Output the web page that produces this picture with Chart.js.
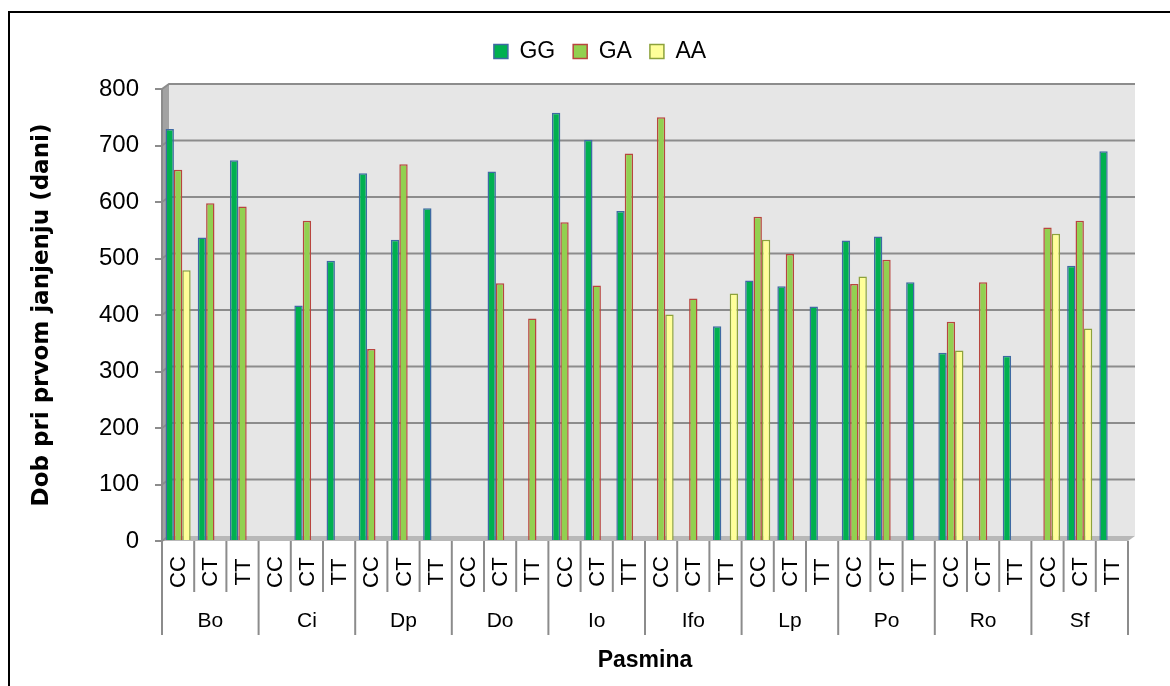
<!DOCTYPE html>
<html>
<head>
<meta charset="utf-8">
<script src="https://cdn.jsdelivr.net/npm/chart.js@4.4.1/dist/chart.umd.min.js"></script>
<style>
  html, body { margin: 0; padding: 0; background: #fff; overflow: hidden; }
  #wrap { width: 1170px; height: 686px; position: relative; }
</style>
</head>
<body>
<div id="wrap"><canvas id="chart"></canvas></div>
<script>
// Breeds (outer level) and genotypes (inner level) of the x axis
const breeds = ['Bo', 'Ci', 'Dp', 'Do', 'Io', 'Ifo', 'Lp', 'Po', 'Ro', 'Sf'];
const genotypes = ['CC', 'CT', 'TT'];

// Age at first lambing (days), one value per breed x genotype, null = no bar
const ggValues = [
  729, 537, 674,   // Bo
  null, 417, 496,  // Ci
  651, 533, 589,   // Dp
  null, 654, null, // Do
  758, 710, 584,   // Io
  null, null, 380, // Ifo
  461, 451, 415,   // Lp
  532, 539, 458,   // Po
  333, null, 328,  // Ro
  null, 487, 690   // Sf
];
const gaValues = [
  657, 598, 592,
  null, 567, null,
  340, 667, null,
  null, 456, 394,
  564, 452, 686,
  750, 429, null,
  574, 508, null,
  455, 498, null,
  388, 458, null,
  555, 567, null
];
const aaValues = [
  479, null, null,
  null, null, null,
  null, null, null,
  null, null, null,
  null, null, null,
  401, null, 438,
  533, null, null,
  468, null, null,
  337, null, null,
  544, 376, null
];

const labels = [];
breeds.forEach(b => genotypes.forEach(g => labels.push(g)));

const FONT = "'Liberation Sans', Arial, sans-serif";
const GRID = '#8c8c8c';

// Background: outer frame, 3D-ish walls and gridlines on the back wall
const wallPlugin = {
  id: 'walls',
  beforeDraw(chart) {
    const { ctx, chartArea: a, scales: { y } } = chart;
    const dx = 7, dy = 5;
    ctx.save();
    ctx.fillStyle = '#fff';
    ctx.fillRect(0, 0, chart.width, chart.height);
    // outer frame
    ctx.strokeStyle = '#000';
    ctx.lineWidth = 2;
    ctx.beginPath();
    ctx.moveTo(9, chart.height + 5);
    ctx.lineTo(9, 12);
    ctx.lineTo(chart.width + 5, 12);
    ctx.stroke();
    // back wall
    ctx.fillStyle = '#e6e6e6';
    ctx.fillRect(a.left + dx, a.top - dy, a.width, a.height);
    // side wall
    ctx.fillStyle = '#a2a2a2';
    ctx.beginPath();
    ctx.moveTo(a.left, a.top);
    ctx.lineTo(a.left + dx, a.top - dy);
    ctx.lineTo(a.left + dx, a.bottom - dy);
    ctx.lineTo(a.left, a.bottom);
    ctx.closePath();
    ctx.fill();
    // floor
    ctx.fillStyle = '#b8b8b8';
    ctx.beginPath();
    ctx.moveTo(a.left, a.bottom);
    ctx.lineTo(a.left + dx, a.bottom - dy);
    ctx.lineTo(a.right + dx, a.bottom - dy);
    ctx.lineTo(a.right, a.bottom);
    ctx.closePath();
    ctx.fill();
    // gridlines
    ctx.strokeStyle = GRID;
    ctx.lineWidth = 2;
    y.ticks.forEach(t => {
      const py = y.getPixelForValue(t.value);
      ctx.beginPath();
      ctx.moveTo(a.left, py);
      ctx.lineTo(a.left + dx, py - dy);
      if (t.value > 0) ctx.lineTo(a.right + dx, py - dy);
      ctx.stroke();
    });
    ctx.restore();
  }
};

// Two-level category labels under the x axis
const axisLabelPlugin = {
  id: 'axisLabels',
  afterDraw(chart) {
    const { ctx, chartArea: a, scales: { x } } = chart;
    const step = a.width / labels.length;
    const top = a.bottom;
    ctx.save();
    ctx.strokeStyle = GRID;
    ctx.lineWidth = 2;
    for (let i = 0; i <= labels.length; i++) {
      const px = a.left + i * step;
      ctx.beginPath();
      ctx.moveTo(px, top);
      ctx.lineTo(px, i % genotypes.length === 0 ? 635 : 592);
      ctx.stroke();
    }
    ctx.fillStyle = '#000';
    ctx.font = '22px ' + FONT;
    ctx.textAlign = 'center';
    ctx.textBaseline = 'middle';
    labels.forEach((lab, i) => {
      const px = x.getPixelForValue(i);
      ctx.save();
      ctx.translate(px + 1, 572);
      ctx.rotate(-Math.PI / 2);
      ctx.fillText(lab, 0, 0);
      ctx.restore();
    });
    ctx.font = '21px ' + FONT;
    breeds.forEach((b, j) => {
      const px = (x.getPixelForValue(j * 3) + x.getPixelForValue(j * 3 + 2)) / 2;
      ctx.fillText(b, px, 621);
    });
    ctx.restore();
  }
};

// Extra room under the legend, and nudge the legend row to the right
const legendSpacer = {
  id: 'legendSpacer',
  beforeLayout(chart) {
    const lg = chart.legend;
    if (lg && !lg._spaced) {
      const fit = lg.fit.bind(lg);
      lg.fit = function () { fit(); this.height += 16; };
      lg._spaced = true;
    }
  },
  afterLayout(chart) {
    const lg = chart.legend;
    if (lg) { lg.left += 36; lg.right += 36; }
  }
};

const ds = (label, data, fill, edge) => ({
  label, data,
  backgroundColor: fill,
  borderColor: edge,
  borderWidth: 1.5,
  categoryPercentage: 0.78,
  barPercentage: 1.0
});

new Chart(document.getElementById('chart'), {
  type: 'bar',
  data: {
    labels,
    datasets: [
      ds('GG', ggValues, '#00b050', '#3e6aa3'),
      ds('GA', gaValues, '#92d050', '#b8453f'),
      ds('AA', aaValues, '#ffff99', '#8da23c')
    ]
  },
  options: {
    responsive: true,
    maintainAspectRatio: false,
    animation: false,
    layout: { padding: { top: 22, right: 42, left: 0, bottom: 0 } },
    plugins: {
      legend: {
        display: true,
        position: 'top',
        labels: {
          color: '#000',
          font: { family: FONT, size: 23 },
          boxWidth: 14,
          boxHeight: 14,
          padding: 18
        }
      },
      tooltip: { enabled: false }
    },
    scales: {
      x: {
        grid: { display: false },
        border: { display: false },
        ticks: { display: false },
        title: {
          display: true,
          text: 'Pasmina',
          color: '#000',
          font: { family: FONT, size: 23, weight: 'bold' },
          padding: { top: 0, bottom: 12 }
        },
        afterFit(scale) { scale.height = 145; }
      },
      y: {
        min: 0,
        max: 800,
        ticks: {
          stepSize: 100,
          color: '#000',
          font: { family: FONT, size: 24 },
          padding: 16
        },
        grid: {
          drawOnChartArea: false,
          color: GRID,
          lineWidth: 2,
          tickLength: 7
        },
        border: { display: true, color: GRID, width: 2 },
        title: {
          display: true,
          text: 'Dob pri prvom janjenju (dani)',
          color: '#000',
          font: { family: "'DejaVu Sans', sans-serif", size: 23, weight: 'bold' },
          padding: { top: 28, bottom: 0 }
        },
        afterFit(scale) { scale.width = 162; }
      }
    }
  },
  plugins: [wallPlugin, axisLabelPlugin, legendSpacer]
});
</script>
</body>
</html>
